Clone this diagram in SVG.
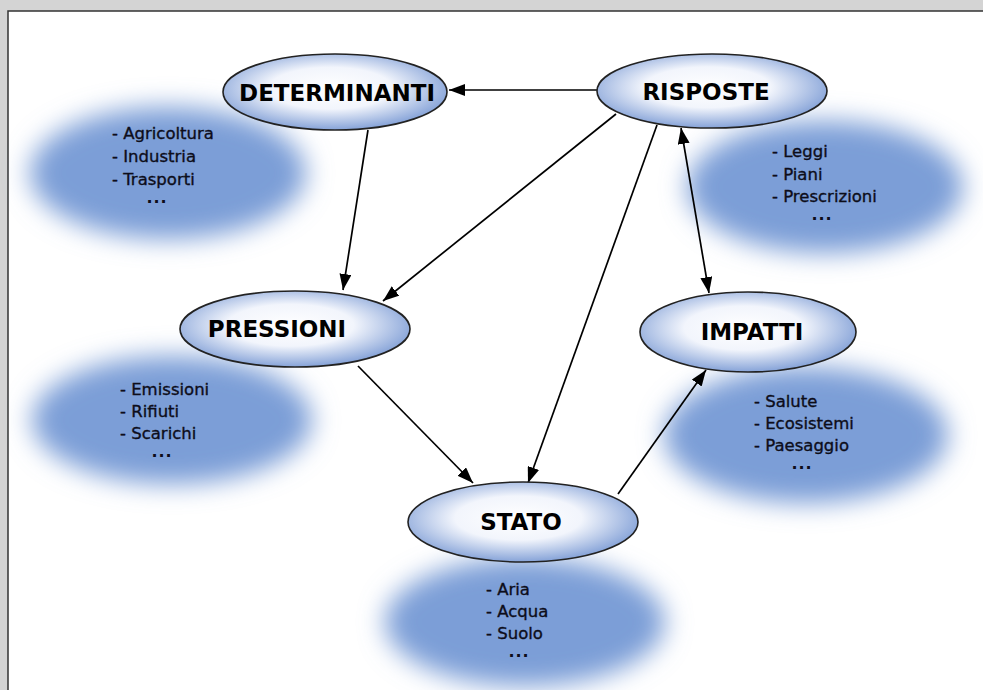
<svg xmlns="http://www.w3.org/2000/svg" width="983" height="690" viewBox="0 0 983 690">
  <defs>
    <radialGradient id="nodeFill" cx="48%" cy="45%" r="55%">
      <stop offset="0%" stop-color="#ffffff"/>
      <stop offset="50%" stop-color="#f2f5fc"/>
      <stop offset="100%" stop-color="#86a3d8"/>
    </radialGradient>
    <filter id="soft" x="-40%" y="-50%" width="180%" height="200%">
      <feGaussianBlur stdDeviation="13"/>
    </filter>
    <marker id="head" viewBox="0 0 16 12" refX="16" refY="6" markerWidth="16" markerHeight="12" markerUnits="userSpaceOnUse" orient="auto-start-reverse">
      <path d="M0,0 L16,6 L0,12 Z" fill="#000"/>
    </marker>
  </defs>
  <style>
    .cloud { fill: #7c9ed7; filter: url(#soft); }
    .node { fill: url(#nodeFill); stroke: #222; stroke-width: 1.6; }
    .title { font-family: "DejaVu Sans", Verdana, sans-serif; font-weight: bold; font-size: 23px; fill: #000; text-anchor: middle; }
    .item { font-family: "DejaVu Sans", Verdana, sans-serif; font-size: 16.5px; fill: #0d0d1a; stroke: #0d0d1a; stroke-width: 0.35; }
    .dots { font-family: "DejaVu Sans", Verdana, sans-serif; font-size: 16px; font-weight: bold; letter-spacing: 1px; fill: #0d0d1a; text-anchor: middle; }
    .link { stroke: #000; stroke-width: 1.7; fill: none; marker-end: url(#head); }
  </style>

  <!-- page backdrop and panel -->
  <rect x="0" y="0" width="983" height="690" fill="#d4d4d4"/>
  <rect x="8" y="11" width="985" height="690" fill="#ffffff" stroke="#333" stroke-width="1.5"/>

  <!-- soft blue backdrops behind each list -->
  <g id="clouds">
    <ellipse class="cloud" cx="168" cy="173" rx="138" ry="66"/>
    <ellipse class="cloud" cx="825" cy="187" rx="138" ry="66"/>
    <ellipse class="cloud" cx="172" cy="420" rx="140" ry="64"/>
    <ellipse class="cloud" cx="806" cy="435" rx="142" ry="68"/>
    <ellipse class="cloud" cx="525" cy="622" rx="140" ry="64"/>
  </g>

  <!-- connectors -->
  <g id="connectors">
    <line class="link" x1="597" y1="90" x2="449" y2="90"/>
    <line class="link" x1="368" y1="130" x2="343" y2="290"/>
    <line class="link" x1="616" y1="114" x2="383" y2="301"/>
    <line class="link" x1="657" y1="125" x2="528" y2="483"/>
    <line class="link" x1="681" y1="128" x2="709" y2="293" marker-start="url(#head)"/>
    <line class="link" x1="358" y1="366" x2="473" y2="483"/>
    <line class="link" x1="618" y1="494" x2="706" y2="370"/>
  </g>

  <g id="determinanti">
    <ellipse class="node" cx="335" cy="92" rx="112" ry="38"/>
    <text class="title" x="337" y="101">DETERMINANTI</text>
    <text class="item" x="112" y="139">- Agricoltura</text>
    <text class="item" x="112" y="162">- Industria</text>
    <text class="item" x="112" y="185">- Trasporti</text>
    <text class="dots" x="157" y="203">...</text>
  </g>

  <g id="risposte">
    <ellipse class="node" cx="712" cy="91" rx="115" ry="37"/>
    <text class="title" x="706" y="100">RISPOSTE</text>
    <text class="item" x="772" y="157">- Leggi</text>
    <text class="item" x="772" y="180">- Piani</text>
    <text class="item" x="772" y="202">- Prescrizioni</text>
    <text class="dots" x="822" y="220">...</text>
  </g>

  <g id="pressioni">
    <ellipse class="node" cx="295" cy="329" rx="115" ry="38"/>
    <text class="title" x="277" y="337">PRESSIONI</text>
    <text class="item" x="120" y="395">- Emissioni</text>
    <text class="item" x="120" y="417">- Rifiuti</text>
    <text class="item" x="120" y="439">- Scarichi</text>
    <text class="dots" x="162" y="457">...</text>
  </g>

  <g id="impatti">
    <ellipse class="node" cx="748" cy="332" rx="108" ry="40"/>
    <text class="title" x="752" y="340">IMPATTI</text>
    <text class="item" x="754" y="407">- Salute</text>
    <text class="item" x="754" y="429">- Ecosistemi</text>
    <text class="item" x="754" y="451">- Paesaggio</text>
    <text class="dots" x="802" y="469">...</text>
  </g>

  <g id="stato">
    <ellipse class="node" cx="523" cy="522" rx="115" ry="40"/>
    <text class="title" x="521" y="530">STATO</text>
    <text class="item" x="486" y="595">- Aria</text>
    <text class="item" x="486" y="617">- Acqua</text>
    <text class="item" x="486" y="639">- Suolo</text>
    <text class="dots" x="519" y="657">...</text>
  </g>
</svg>
